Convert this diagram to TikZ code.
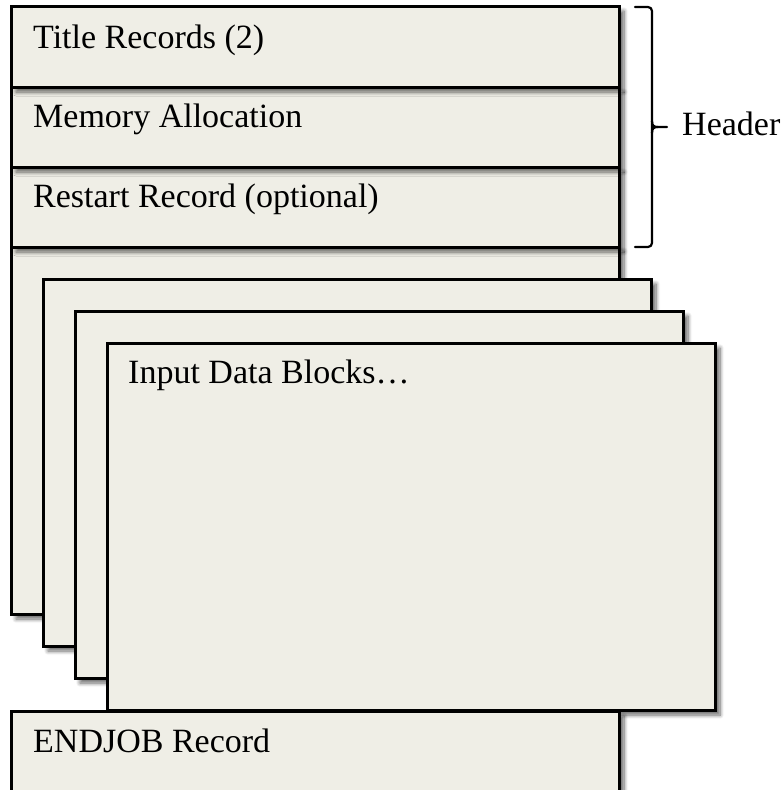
\documentclass[tikz,border=0pt]{standalone}
\usepackage{fontspec}
\setmainfont{Liberation Serif}
\usetikzlibrary{shadows.blur}
\definecolor{boxfill}{RGB}{239,238,230}
\tikzset{
  recbox/.style={draw=black, line width=3pt, fill=boxfill, rectangle, inner sep=0pt, outer sep=0pt,
    anchor=north west,
    blur shadow={shadow xshift=5pt, shadow yshift=-5pt, shadow blur radius=4pt, shadow blur steps=8, shadow opacity=60}},
  lbl/.style={anchor=base west, inner sep=0pt, font=\fontsize{34}{40}\selectfont},
  bracestyle/.style={draw=black, line width=2.2pt, line cap=round},
}
\begin{document}
\begin{tikzpicture}[x=1pt,y=-1pt]
\useasboundingbox (0,0) rectangle (783,790);
\begin{scope}
\clip (0,0) rectangle (783,790);
% header records and main block
\node[recbox, minimum width=608pt, minimum height=368pt] (mainblk) at (11,246) {};
\node[recbox, minimum width=608pt, minimum height=80pt] (restart) at (11,167) {};
\node[recbox, minimum width=608pt, minimum height=80pt] (memory) at (11,87) {};
\node[recbox, minimum width=608pt, minimum height=81pt] (title) at (11,6) {};
% stacked input data blocks
\node[recbox, minimum width=608pt, minimum height=367pt] (blkb) at (43,279) {};
\node[recbox, minimum width=608pt, minimum height=367pt] (blkc) at (75,311) {};
\node[recbox, minimum width=608pt, minimum height=367pt] (blkd) at (107,343) {};
% endjob
\node[recbox, minimum width=608pt, minimum height=120pt] (endjob) at (11,711) {};
\end{scope}
% labels
\node[lbl] (ttitle) at (33,48) {Title Records (2)};
\node[lbl] (tmemory) at (33,127.5) {Memory Allocation};
\node[lbl] (trestart) at (33,207) {Restart Record (optional)};
\node[lbl] (tinput) at (128,383) {Input Data Blocks…};
\node[lbl] (tendjob) at (33,752) {ENDJOB Record};
\node[lbl] (theader) at (682,135) {Header};
% brace
\coordinate (btop) at (635,7);
\coordinate (bbot) at (635,247);
\coordinate (btip) at (667,127);
\draw[bracestyle, rounded corners=4pt] (btop) -- (652,7) -- (652,247) -- (bbot);
\draw[bracestyle] (652,121) .. controls (652,126) and (654,127) .. (658,127) -- (btip);
\draw[bracestyle] (652,133) .. controls (652,128) and (654,127) .. (658,127);
\end{tikzpicture}
\end{document}
